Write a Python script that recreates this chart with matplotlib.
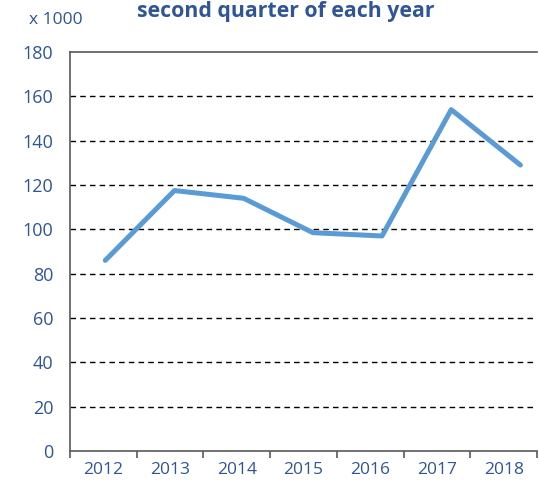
import matplotlib.pyplot as plt
import numpy as np

years = ["2012", "2013", "2014", "2015", "2016", "2017", "2018"]
values = [86, 117.5, 114, 98.5, 97, 154, 129]
y_ticks = [0, 20, 40, 60, 80, 100, 120, 140, 160, 180]

TEXT = "#2F5597"
LINE = "#5B9BD5"

plt.rcParams["font.family"] = ["Open Sans", "DejaVu Sans"]

fig = plt.figure(figsize=(5.39, 4.86), dpi=100)
rect = [70 / 539, 1 - 451 / 486, 467 / 539, (451 - 52) / 486]
ax = fig.add_axes(rect)

# category axis
ax.set_xlim(-0.5, len(years) - 0.5)
ax.set_ylim(0, 180)
ax.set_yticks(y_ticks)
ax.set_yticklabels([str(v) for v in y_ticks], color=TEXT, fontsize=13)
ax.tick_params(axis="y", length=0, pad=12)

x = np.arange(len(years))
ax.set_xticks(x)
ax.set_xticklabels(years, color=TEXT, fontsize=12.5)
ax.tick_params(axis="x", which="major", length=0, pad=8)
ax.set_xticks(np.arange(-0.5, len(years)), minor=True)
ax.tick_params(axis="x", which="minor", length=5, width=1.2, color="#595959", direction="out")

for v in y_ticks[1:-1]:
    ax.axhline(v, color="black", lw=1, ls=(0, (4, 3)), zorder=1)

for side in ["left", "bottom", "top"]:
    ax.spines[side].set_color("#595959")
    ax.spines[side].set_linewidth(1.2)
ax.spines["right"].set_visible(False)

# the line sits on its own (slightly wider spaced) x scale, as in the original
ax2 = fig.add_axes(rect, sharey=ax)
ax2.patch.set_visible(False)
ax2.axis("off")
ax2.plot(x, values, color=LINE, lw=3.6, solid_capstyle="round", solid_joinstyle="round", zorder=3)
ax2.set_xlim(-0.51, 6.24)
ax2.set_ylim(0, 180)

fig.text(29 / 539, 1 - 20 / 486, "x 1000", color=TEXT, fontsize=12.5, va="center", ha="left")
fig.text(286 / 539, 1 - 11 / 486, "second quarter of each year", color=TEXT,
         fontsize=15.3, fontweight="bold", ha="center", va="center")

fig.savefig("out.png", dpi=100)
